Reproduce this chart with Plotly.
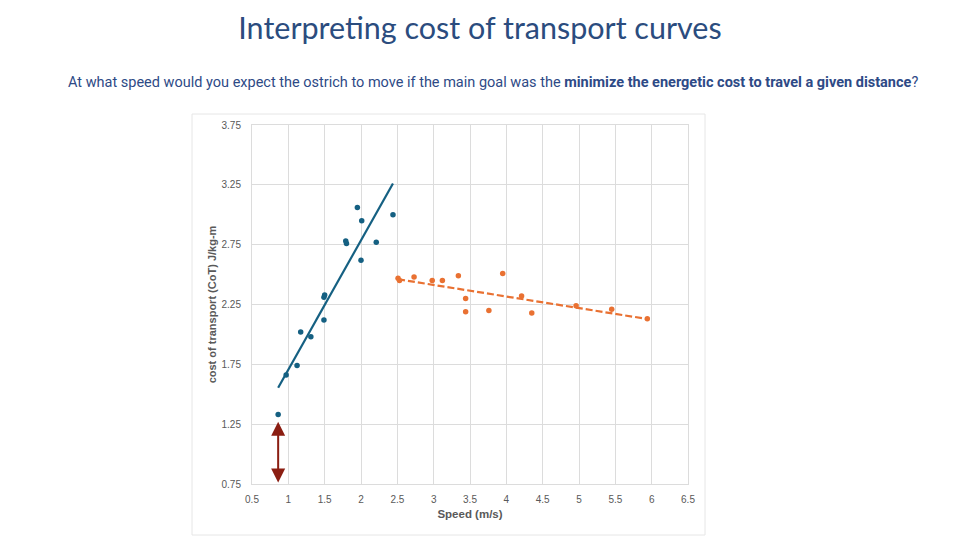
import numpy as np
import plotly.graph_objects as go

# ---- data ----
walk_speed = [0.86, 0.97, 1.12, 1.17, 1.31, 1.49, 1.49, 1.50, 1.79, 1.80, 1.95, 2.01, 2.00, 2.21, 2.44]
walk_cot = [1.33, 1.66, 1.74, 2.02, 1.98, 2.12, 2.31, 2.33, 2.78, 2.76, 3.06, 2.95, 2.62, 2.77, 3.00]

run_speed = [2.51, 2.53, 2.73, 2.98, 3.12, 3.34, 3.44, 3.44, 3.76, 3.95, 4.21, 4.35, 4.96, 5.45, 5.94]
run_cot = [2.47, 2.45, 2.48, 2.45, 2.45, 2.49, 2.30, 2.19, 2.20, 2.51, 2.32, 2.18, 2.24, 2.21, 2.13]

x_ticks = [0.5, 1, 1.5, 2, 2.5, 3, 3.5, 4, 4.5, 5, 5.5, 6, 6.5]
x_tick_text = ["0.5", "1", "1.5", "2", "2.5", "3", "3.5", "4", "4.5", "5", "5.5", "6", "6.5"]
y_ticks = [0.75, 1.25, 1.75, 2.25, 2.75, 3.25, 3.75]
y_tick_text = ["0.75", "1.25", "1.75", "2.25", "2.75", "3.25", "3.75"]

arrow_speed = 0.86
arrow_from = 0.75
arrow_to = 1.27

title_text = "Interpreting cost of transport curves"
question_text = ("At what speed would you expect the ostrich to move if the main goal was the "
                 "<b>minimize the energetic cost to travel a given distance</b>?")

# ---- trendlines (linear fits) ----
def fit(xs, ys):
    m, b = np.polyfit(xs, ys, 1)
    xx = np.array([min(xs), max(xs)])
    return xx, m * xx + b

wx, wy = fit(walk_speed, walk_cot)
rx, ry = fit(run_speed, run_cot)

BLUE = "#156082"
ORANGE = "#E97132"
GRID = "#DCDCDC"
TICK = "#595959"

fig = go.Figure()
fig.add_trace(go.Scatter(x=wx, y=wy, mode="lines", line=dict(color=BLUE, width=2.2), hoverinfo="skip"))
fig.add_trace(go.Scatter(x=rx, y=ry, mode="lines", line=dict(color=ORANGE, width=2.2, dash="7px,3px"), hoverinfo="skip"))
fig.add_trace(go.Scatter(x=walk_speed, y=walk_cot, mode="markers", marker=dict(color=BLUE, size=5.5)))
fig.add_trace(go.Scatter(x=run_speed, y=run_cot, mode="markers", marker=dict(color=ORANGE, size=5.5)))

fig.add_annotation(x=arrow_speed, y=arrow_to, ax=arrow_speed, ay=arrow_from,
                   xref="x", yref="y", axref="x", ayref="y", text="",
                   showarrow=True, arrowhead=2, startarrowhead=2, arrowside="end+start",
                   arrowsize=1.4, startarrowsize=1.4, arrowwidth=2, arrowcolor="#8B1E12")

L, R, T, B = 252, 272, 125, 56
pw, ph = 960 - L - R, 540 - T - B

def px_x(p):
    return (p - L) / pw

def px_y(p):
    return (540 - B - p) / ph

fig.add_annotation(x=px_x(493), y=px_y(82), xref="paper", yref="paper", text=question_text,
                   showarrow=False, xanchor="center", yanchor="middle",
                   font=dict(family="Roboto", size=14.5, color="#2E4A86"))

fig.add_shape(type="rect", xref="paper", yref="paper",
              x0=px_x(192), x1=px_x(705), y0=px_y(535), y1=px_y(114),
              line=dict(color="#E6E6E6", width=1), fillcolor="rgba(0,0,0,0)", layer="below")

fig.update_layout(
    width=960, height=540,
    margin=dict(l=L, r=R, t=T, b=B),
    paper_bgcolor="white", plot_bgcolor="white",
    showlegend=False,
    title=dict(text=title_text, x=0.5, xref="container", xanchor="center",
               y=1 - 28 / 540, yref="container", yanchor="middle",
               font=dict(family="Lato", size=30.5, color="#2B4C7E")),
    xaxis=dict(range=[0.5, 6.5], tickvals=x_ticks, ticktext=x_tick_text,
               showgrid=True, gridcolor=GRID, gridwidth=1, zeroline=False,
               showline=True, linecolor=GRID, mirror=True, ticks="",
               tickfont=dict(family="Arial", size=10, color=TICK),
               ticklabelstandoff=6,
               title=dict(text="<b>Speed (m/s)</b>", standoff=5,
                          font=dict(family="Arial", size=11.5, color=TICK))),
    yaxis=dict(range=[0.75, 3.75], tickvals=y_ticks, ticktext=y_tick_text,
               showgrid=True, gridcolor=GRID, gridwidth=1, zeroline=False,
               showline=True, linecolor=GRID, mirror=True, ticks="",
               tickfont=dict(family="Arial", size=10, color=TICK),
               ticklabelstandoff=8,
               title=dict(text="<b>cost of transport (CoT) J/kg-m</b>", standoff=2,
                          font=dict(family="Arial", size=11, color=TICK))),
)

fig.write_html("out.html")
